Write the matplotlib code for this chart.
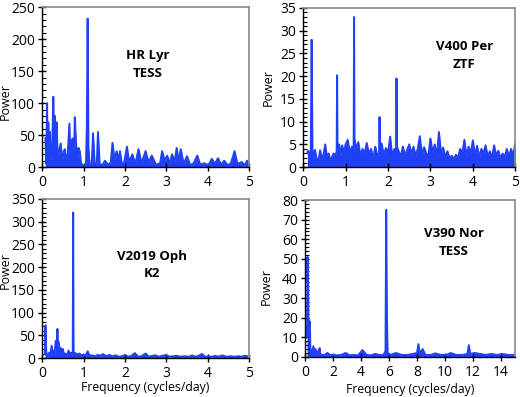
import numpy as np
import matplotlib
matplotlib.use("Agg")
import matplotlib.pyplot as plt
from matplotlib.ticker import MultipleLocator

plt.rcParams['font.family'] = ['Open Sans', 'DejaVu Sans']

# HR Lyr (TESS)
hr_freq = [
    0.08, 0.10, 0.12, 0.13, 0.15, 0.17, 0.19, 0.21, 0.24, 0.27,
    0.29, 0.31, 0.33, 0.35, 0.38, 0.41, 0.45, 0.48, 0.52, 0.55,
    0.58, 0.62, 0.66, 0.68, 0.71, 0.74, 0.77, 0.79, 0.82, 0.85,
    0.88, 0.91, 0.94, 0.98, 1.02, 1.06, 1.08, 1.10, 1.12, 1.15,
    1.20, 1.23, 1.27, 1.32, 1.35, 1.39, 1.45, 1.52, 1.60, 1.66,
    1.70, 1.75, 1.80, 1.85, 1.88, 1.92, 1.97, 2.05, 2.10, 2.18,
    2.25, 2.33, 2.40, 2.50, 2.57, 2.65, 2.75, 2.85, 2.90, 2.96,
    3.02, 3.08, 3.14, 3.20, 3.25, 3.30, 3.35, 3.42, 3.50, 3.58,
    3.66, 3.75, 3.82, 3.92, 4.02, 4.10, 4.17, 4.25, 4.32, 4.40,
    4.48, 4.56, 4.65, 4.72, 4.82, 4.90, 4.95, 5.00]
hr_power = [
    45, 5, 100, 20, 70, 10, 55, 8, 15, 110,
    40, 80, 20, 70, 10, 25, 37, 6, 25, 28,
    8, 22, 68, 15, 40, 45, 10, 78, 38, 12,
    30, 25, 6, 3, 2, 5, 60, 232, 30, 3,
    5, 53, 6, 4, 55, 5, 3, 10, 3, 8,
    38, 12, 25, 10, 25, 8, 3, 32, 8, 20,
    5, 28, 6, 25, 8, 18, 4, 6, 25, 10,
    18, 6, 20, 8, 30, 10, 28, 5, 17, 3,
    6, 18, 4, 6, 3, 13, 5, 14, 4, 10,
    3, 6, 25, 5, 8, 3, 10, 6]

# V400 Per (ZTF)
zt_freq = [
    0.10, 0.12, 0.15, 0.18, 0.20, 0.22, 0.25, 0.28, 0.32, 0.36,
    0.40, 0.44, 0.48, 0.52, 0.56, 0.60, 0.64, 0.68, 0.72, 0.76,
    0.79, 0.80, 0.81, 0.85, 0.88, 0.92, 0.96, 1.00, 1.05, 1.10,
    1.15, 1.19, 1.20, 1.21, 1.25, 1.30, 1.35, 1.40, 1.45, 1.50,
    1.55, 1.60, 1.65, 1.70, 1.75, 1.79, 1.80, 1.81, 1.85, 1.90,
    1.95, 2.00, 2.05, 2.10, 2.15, 2.19, 2.20, 2.21, 2.25, 2.30,
    2.35, 2.40, 2.45, 2.50, 2.55, 2.60, 2.65, 2.70, 2.75, 2.80,
    2.85, 2.90, 2.95, 3.00, 3.05, 3.10, 3.15, 3.20, 3.25, 3.30,
    3.35, 3.40, 3.45, 3.50, 3.55, 3.60, 3.65, 3.70, 3.75, 3.80,
    3.85, 3.90, 3.95, 4.00, 4.05, 4.10, 4.15, 4.20, 4.25, 4.30,
    4.35, 4.40, 4.45, 4.50, 4.55, 4.60, 4.65, 4.70, 4.75, 4.80,
    4.85, 4.90, 4.95, 5.00]
zt_power = [
    3.3, 3.6, 2.0, 3.8, 28.0, 3.9, 2.2, 3.8, 1.8, 1.5,
    3.7, 2.0, 2.8, 5.0, 2.2, 3.0, 1.6, 2.2, 3.0, 2.5,
    3.5, 20.2, 4.0, 5.0, 2.5, 4.8, 3.0, 5.0, 6.0, 3.2,
    4.5, 4.0, 33.0, 6.3, 4.0, 5.5, 2.5, 4.0, 3.0, 5.3,
    2.8, 4.0, 2.0, 4.5, 2.5, 3.0, 11.0, 3.5, 5.2, 2.6,
    4.2, 3.0, 6.7, 2.4, 4.0, 3.0, 19.5, 4.5, 3.5, 2.4,
    4.5, 2.6, 3.8, 5.0, 3.0, 4.5, 2.5, 4.0, 6.8, 2.6,
    4.4, 3.0, 2.5, 6.3, 3.2, 5.0, 2.4, 7.7, 3.0, 4.3,
    2.2, 3.5, 2.0, 2.5, 1.8, 2.7, 2.0, 4.0, 3.0, 6.0,
    2.5, 4.5, 3.0, 5.9, 2.5, 4.7, 2.2, 4.0, 3.0, 4.8,
    2.3, 3.5, 2.0, 4.8, 2.5, 3.6, 2.0, 3.0, 2.2, 4.0,
    2.3, 4.0, 2.4, 5.5]

# V2019 Oph (K2)
k2_freq = [
    0.07, 0.08, 0.09, 0.10, 0.12, 0.14, 0.17, 0.20, 0.23, 0.26,
    0.28, 0.30, 0.33, 0.35, 0.37, 0.38, 0.40, 0.42, 0.45, 0.48,
    0.50, 0.53, 0.56, 0.60, 0.64, 0.66, 0.69, 0.72, 0.74, 0.75,
    0.76, 0.78, 0.82, 0.86, 0.90, 0.95, 1.00, 1.05, 1.10, 1.15,
    1.20, 1.28, 1.35, 1.42, 1.47, 1.55, 1.62, 1.70, 1.78, 1.86,
    1.93, 2.00, 2.08, 2.16, 2.24, 2.32, 2.40, 2.50, 2.58, 2.66,
    2.74, 2.82, 2.90, 3.00, 3.08, 3.16, 3.25, 3.35, 3.45, 3.55,
    3.62, 3.70, 3.78, 3.86, 3.94, 4.02, 4.10, 4.18, 4.26, 4.36,
    4.45, 4.55, 4.65, 4.75, 4.82, 4.90, 4.96]
k2_power = [
    10, 72, 40, 15, 3, 5, 12, 8, 27, 12,
    15, 10, 38, 25, 64, 40, 35, 20, 22, 12,
    20, 8, 10, 5, 17, 8, 12, 6, 15, 320,
    14, 12, 10, 8, 10, 6, 8, 5, 15, 5,
    6, 4, 7, 5, 9, 4, 7, 4, 6, 3,
    4, 7, 3, 5, 11, 3, 4, 10, 3, 5,
    6, 3, 5, 7, 3, 4, 5, 3, 4, 3,
    6, 3, 5, 9, 3, 4, 3, 5, 3, 6,
    3, 4, 3, 4, 3, 5, 4]

# V390 Nor (TESS)
nor_freq = [
    0.15, 0.18, 0.20, 0.22, 0.25, 0.28, 0.32, 0.35, 0.38, 0.42,
    0.50, 0.60, 0.68, 0.75, 0.85, 0.95, 1.05, 1.10, 1.20, 1.40,
    1.60, 1.80, 2.00, 2.30, 2.60, 2.90, 3.20, 3.50, 3.80, 4.10,
    4.40, 4.70, 5.00, 5.30, 5.60, 5.75, 5.80, 5.85, 5.90, 6.10,
    6.50, 6.90, 7.30, 7.70, 8.00, 8.10, 8.20, 8.40, 8.60, 9.00,
    9.30, 9.70, 10.10, 10.40, 10.80, 11.20, 11.60, 11.70, 11.80, 12.10,
    12.50, 12.90, 13.30, 13.70, 14.10, 14.50, 15.00]
nor_power = [
    10, 51, 38, 40, 20, 18, 10, 18, 5, 3,
    2, 5.5, 2, 4, 1.5, 3, 4.5, 1.5, 1, 1,
    2, 1, 1, 0.8, 1, 2, 0.8, 1, 0.8, 3.5,
    1, 0.8, 1.5, 1, 1, 3, 75, 22, 2, 1,
    2, 1, 1, 1.5, 2, 6.5, 1.5, 4, 1, 1,
    1.8, 1, 1, 2, 1, 1, 1.5, 6, 1.5, 2,
    1.5, 1, 1.5, 1, 1.5, 1, 1]

blue = '#2040f5'

panels = [
    # freq, power, label, xmax, xstep, ymax, ystep, yminor, axes rect, label pos, ylabel pos, xlabel y
    (hr_freq, hr_power, 'HR Lyr\nTESS', 5, 1, 250, 50, 10,
     [0.081, 0.579, 0.398, 0.403], (0.51, 0.64), (-0.145, 0.41), None),
    (zt_freq, zt_power, 'V400 Per\nZTF', 5, 1, 35, 5, 1,
     [0.583, 0.579, 0.408, 0.401], (0.76, 0.70), (-0.132, 0.5), None),
    (k2_freq, k2_power, 'V2019 Oph\nK2', 5, 1, 350, 50, 10,
     [0.081, 0.098, 0.398, 0.401], (0.53, 0.585), (-0.146, 0.55), -0.145),
    (nor_freq, nor_power, 'V390 Nor\nTESS', 15, 2, 80, 10, 2,
     [0.5865, 0.101, 0.404, 0.395], (0.71, 0.73), (-0.152, 0.45), -0.165),
]

fig = plt.figure(figsize=(5.2, 3.97), dpi=100)

for freq, power, name, xmax, xstep, ymax, ystep, yminor, rect, tpos, ylpos, xly in panels:
    ax = fig.add_axes(rect)
    ax.fill_between(freq, power, 0, color=blue, lw=0)
    ax.plot(freq, power, color=blue, lw=1.4)
    ax.set_xlim(0, xmax)
    ax.set_ylim(0, ymax)
    ax.xaxis.set_major_locator(MultipleLocator(xstep))
    ax.yaxis.set_major_locator(MultipleLocator(ystep))
    ax.yaxis.set_minor_locator(MultipleLocator(yminor))
    ax.tick_params(axis='both', which='major', direction='inout', length=6,
                   width=1, labelsize=10, pad=2, color='black')
    ax.tick_params(axis='y', which='minor', direction='in', length=3, width=0.8)
    ax.tick_params(axis='x', pad=3)
    for s in ['top', 'right']:
        ax.spines[s].set_color('#8a8a8a')
        ax.spines[s].set_linewidth(1.2)
    for s in ['left', 'bottom']:
        ax.spines[s].set_color('black')
        ax.spines[s].set_linewidth(1)
    ax.text(tpos[0], tpos[1], name, transform=ax.transAxes, ha='center',
            va='center', fontsize=9.5, fontweight='bold', linespacing=1.45)
    ax.set_ylabel('Power', fontsize=9)
    ax.yaxis.set_label_coords(*ylpos)
    if xly is not None:
        ax.set_xlabel('Frequency (cycles/day)', fontsize=8.8)
        ax.xaxis.set_label_coords(0.5, xly)

fig.savefig('out.png', dpi=100)
